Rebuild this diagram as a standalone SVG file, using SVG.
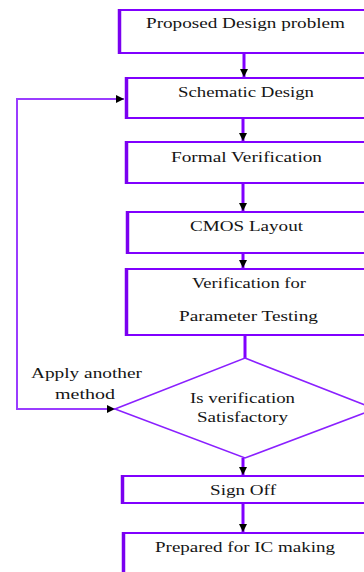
<svg xmlns="http://www.w3.org/2000/svg" width="364" height="572" viewBox="0 0 364 572" font-family="'Liberation Serif', 'DejaVu Serif', serif">
<style>
.box{fill:#fff;stroke:#8000ff;stroke-width:2}
.lb{stroke:#7a00f0;stroke-width:3.5}
.t{font-size:15px;fill:#151515;text-anchor:middle}
.c{fill:none;stroke:#8000ff;stroke-width:3}
.fb{fill:none;stroke:#9a3cff;stroke-width:2}
.dia{fill:#fff;stroke:#8a20ff;stroke-width:1.6}
</style>
<defs>
<marker id="ah" viewBox="0 0 10 10" refX="10" refY="5" markerWidth="8" markerHeight="8" markerUnits="userSpaceOnUse" orient="auto-start-reverse">
<path d="M0,0 L10,5 L0,10 Z" fill="#000"/>
</marker>
</defs>
<g id="connectors">
<line class="c" x1="244" y1="54" x2="244" y2="77" marker-end="url(#ah)"/>
<line class="c" x1="243" y1="119" x2="243" y2="141" marker-end="url(#ah)"/>
<line class="c" x1="243" y1="184" x2="243" y2="211" marker-end="url(#ah)"/>
<line class="c" x1="243" y1="254" x2="243" y2="268" marker-end="url(#ah)"/>
<line class="c" x1="245" y1="336" x2="245" y2="358"/>
<line class="c" x1="243" y1="458" x2="243" y2="475" marker-end="url(#ah)"/>
<line class="c" x1="243" y1="504" x2="243" y2="532" marker-end="url(#ah)"/>
<path class="fb" d="M115,409 H17 V99 H124" marker-start="url(#ah)" marker-end="url(#ah)"/>
</g>
<g id="n1">
<rect class="box" x="119" y="10" width="270" height="43"/>
<line class="lb" x1="119.5" y1="9" x2="119.5" y2="54"/>
<text class="t" x="245.5" y="28" textLength="199" lengthAdjust="spacingAndGlyphs">Proposed Design problem</text>
</g>
<g id="n2">
<rect class="box" x="126" y="78" width="260" height="40"/>
<line class="lb" x1="126.5" y1="77" x2="126.5" y2="119"/>
<text class="t" x="246" y="97" textLength="136" lengthAdjust="spacingAndGlyphs">Schematic Design</text>
</g>
<g id="n3">
<rect class="box" x="126" y="142" width="260" height="41"/>
<line class="lb" x1="126.5" y1="141" x2="126.5" y2="184"/>
<text class="t" x="246.5" y="162" textLength="151" lengthAdjust="spacingAndGlyphs">Formal Verification</text>
</g>
<g id="n4">
<rect class="box" x="127" y="212" width="260" height="41"/>
<line class="lb" x1="127.5" y1="211" x2="127.5" y2="254"/>
<text class="t" x="246.5" y="231" textLength="113" lengthAdjust="spacingAndGlyphs">CMOS Layout</text>
</g>
<g id="n5">
<rect class="box" x="126" y="269" width="260" height="66"/>
<line class="lb" x1="126.5" y1="268" x2="126.5" y2="336"/>
<text class="t" x="249" y="288" textLength="114" lengthAdjust="spacingAndGlyphs">Verification for</text>
<text class="t" x="248.5" y="321" textLength="139" lengthAdjust="spacingAndGlyphs">Parameter Testing</text>
</g>
<g id="n6">
<polygon class="dia" points="245,358 375,409 245,458 115,409"/>
<text class="t" x="242.5" y="403" textLength="105" lengthAdjust="spacingAndGlyphs">Is verification</text>
<text class="t" x="242.5" y="422" textLength="91" lengthAdjust="spacingAndGlyphs">Satisfactory</text>
</g>
<g id="label">
<text class="t" x="86.5" y="378" textLength="111" lengthAdjust="spacingAndGlyphs">Apply another</text>
<text class="t" x="85" y="399" textLength="60" lengthAdjust="spacingAndGlyphs">method</text>
</g>
<g id="n7">
<rect class="box" x="122" y="476" width="265" height="27"/>
<line class="lb" x1="122.5" y1="475" x2="122.5" y2="504"/>
<text class="t" x="243" y="495" textLength="66" lengthAdjust="spacingAndGlyphs">Sign Off</text>
</g>
<g id="n8">
<rect class="box" x="123" y="533" width="265" height="60"/>
<line class="lb" x1="123.5" y1="532" x2="123.5" y2="572"/>
<text class="t" x="245" y="552" textLength="180" lengthAdjust="spacingAndGlyphs">Prepared for IC making</text>
</g>
</svg>
